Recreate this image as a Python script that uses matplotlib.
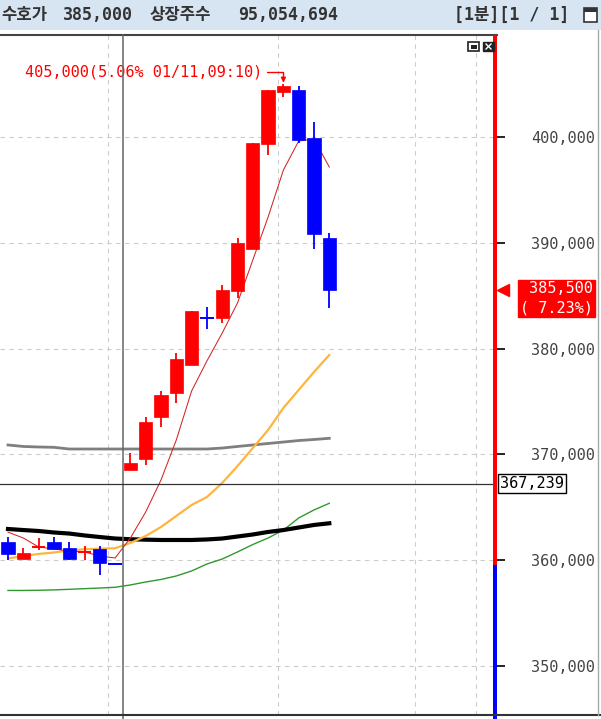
import matplotlib.pyplot as plt
from matplotlib.patches import Rectangle
from matplotlib.lines import Line2D
from matplotlib.transforms import blended_transform_factory

# ---- data (1-minute candles) ----
opens = [361700, 360100, 361250, 361700, 361150, 360800, 361100, 359650,
         368550, 369550, 373500, 375850, 378450, 382900, 382850, 385400,
         389400, 399350, 404300, 404400, 399900, 390500]
highs = [362200, 361200, 362100, 362200, 361750, 361300, 361300, 359650,
         370100, 373550, 376000, 379550, 383550, 383950, 386000, 390500,
         399400, 404400, 405000, 404800, 401450, 390900]
lows = [360000, 360100, 361000, 361100, 360000, 360000, 358600, 359650,
        368550, 369000, 372550, 374900, 378450, 381850, 382450, 384750,
        389400, 398300, 403750, 399400, 389400, 383800]
closes = [360600, 360700, 361250, 361100, 360100, 360800, 359700, 359650,
          369150, 373050, 375600, 379000, 383550, 382900, 385550, 389950,
          399400, 404400, 404800, 399700, 390800, 385500]

ma_red = [362650, 362100, 361250, 361060, 360870, 360775, 360400, 360210,
          362100, 364560, 367580, 371360, 375990, 378830, 381470, 384310,
          388370, 392440, 396880, 399620, 399810, 397160]
ma_orange = [360160, 360400, 360590, 360730, 360920, 361030, 361090, 361130,
             361630, 362290, 363140, 364180, 365220, 365970, 367300, 368900,
             370600, 372310, 374390, 376090, 377790, 379400]
ma_black = [362950, 362850, 362760, 362620, 362520, 362340, 362190, 362050,
            361980, 361940, 361910, 361910, 361910, 361960, 362050, 362240,
            362430, 362670, 362850, 363090, 363330, 363490]
ma_gray = [370890, 370750, 370700, 370670, 370510, 370510, 370510, 370510,
           370510, 370510, 370510, 370510, 370510, 370510, 370600, 370750,
           370890, 371030, 371170, 371310, 371410, 371520]
ma_green = [357140, 357140, 357160, 357190, 357250, 357310, 357370, 357440,
            357660, 357940, 358180, 358510, 358980, 359640, 360110, 360780,
            361480, 362100, 362850, 363990, 364750, 365380]

price_ticks = [350000, 360000, 370000, 380000, 390000, 400000]
time_grid = [6.54, 17.65, 26.6, 30.59]
cursor_idx = 7.52
cursor_price = 367239
base_price = 359500
hi_label = "405,000(5.06% 01/11,09:10)"
last_label = "385,500\n( 7.23%)"
header_items = [("수호가", 1), ("385,000", 63), ("상장주수", 150),
                ("95,054,694", 238), ("[1분][1 / 1]", 454)]

W, H = 601, 719
MONO = ['DejaVu Sans Mono']
KR = ['DejaVu Sans Mono', 'Noto Sans CJK KR']
RED, BLUE = '#ff0000', '#0000ff'


def fx(x):
    return x / W


def fy(y):
    return 1 - y / H


fig = plt.figure(figsize=(W / 100, H / 100), dpi=100)
fig.patch.set_facecolor('white')

# header strip
fig.add_artist(Rectangle((0, fy(30)), 1, 30 / H, transform=fig.transFigure,
                         fc='#d7e4f1', ec='none', zorder=0))
for txt, x in header_items:
    fig.text(fx(x), fy(15), txt, family=KR, fontsize=12, weight='bold',
             color='#333333', ha='left', va='center')
fig.add_artist(Rectangle((fx(584), fy(22)), 13 / W, 14 / H, transform=fig.transFigure,
                         fc='white', ec='#333333', lw=1.2))
fig.add_artist(Rectangle((fx(584), fy(12)), 13 / W, 4 / H, transform=fig.transFigure,
                         fc='#333333', ec='none'))

# plot area: pixels x 0..497, y 35..715
ax = fig.add_axes([0, fy(715), fx(497), (715 - 35) / H])
x0 = -8 / 15.3
x1 = (497 - 8) / 15.3
x_bar = (493 - 8) / 15.3
y_top = 400000 + (137 - 35) / 105.8 * 10000
y_bot = 400000 - (715 - 137) / 105.8 * 10000
ax.set_xlim(x0, x1)
ax.set_ylim(y_bot, y_top)
for s in ['left', 'right', 'bottom']:
    ax.spines[s].set_visible(False)
ax.spines['top'].set_color('#444444')
ax.spines['top'].set_linewidth(1.5)

# grid
ax.hlines(price_ticks, x0, x_bar, colors='#cccccc', linestyles=(0, (4, 4)), lw=0.8, zorder=1)
ax.vlines(time_grid, y_bot, y_top, colors='#cccccc', linestyles=(0, (4, 4)), lw=0.8, zorder=1)

# moving averages
idx = list(range(len(closes)))
ax.plot(idx, ma_green, color='#2e9a2e', lw=1.0, zorder=2)
ax.plot(idx, ma_gray, color='#7f7f7f', lw=2.0, zorder=2)
ax.plot(idx, ma_black, color='black', lw=3.0, zorder=2)
ax.plot(idx, ma_orange, color='#ffb53d', lw=1.6, zorder=2)
ax.plot(idx, ma_red, color='#d42424', lw=0.75, zorder=2)

# candles
bw = 0.87
for i in idx:
    o, h, l, c = opens[i], highs[i], lows[i], closes[i]
    if c > o:
        col = RED
    elif c < o:
        col = BLUE
    else:
        col = RED if i == 0 or c >= closes[i - 1] else BLUE
    if h > l:
        ax.vlines(i, l, h, color=col, lw=1.3, zorder=3)
    if c != o:
        ax.add_patch(Rectangle((i - bw / 2, min(o, c)), bw, abs(c - o),
                               fc=col, ec=col, lw=0.5, zorder=3))
    else:
        ax.hlines(o, i - bw / 2, i + bw / 2, color=col, lw=1.4, zorder=3)

# high annotation
i_hi = highs.index(max(highs))
ax.annotate(hi_label, xy=(i_hi, highs[i_hi]), xytext=(-21, 12),
            textcoords='offset pixels', ha='right', va='center',
            color='red', family=MONO, fontsize=11,
            arrowprops=dict(arrowstyle='-|>', color='red', lw=1,
                            mutation_scale=7, shrinkA=1, shrinkB=1,
                            connectionstyle='angle,angleA=0,angleB=90,rad=0'))

# right price bar (red above base price, blue below)
trans = blended_transform_factory(ax.transAxes, ax.transData)
ax.add_patch(Rectangle((493 / 497, base_price), 4 / 497, y_top - base_price,
                       fc='red', ec='none', transform=trans, clip_on=False, zorder=5))
ax.add_patch(Rectangle((493 / 497, y_bot - 500), 4 / 497, base_price - y_bot + 500,
                       fc='blue', ec='none', transform=trans, clip_on=False, zorder=5))

# crosshair
ax.axvline(cursor_idx, ymin=-4 / 680, ymax=1, color='#666666', lw=1.1, zorder=4, clip_on=False)
ax.axhline(cursor_price, color='#333333', lw=0.9, zorder=4)
ax.text(500 / 497, cursor_price, f"{cursor_price:,}", transform=trans,
        ha='left', va='center', family=MONO, fontsize=11, color='black',
        bbox=dict(boxstyle='square,pad=0.15', fc='white', ec='black', lw=1),
        clip_on=False, zorder=6)

# last price marker
ax.plot([502.5 / 497], [closes[-1]], marker='<', ms=9, color='red',
        transform=trans, clip_on=False, zorder=6)
ax.annotate(last_label, xy=(593 / 497, closes[-1]), xycoords=trans,
            xytext=(0, -8), textcoords='offset pixels', ha='right', va='center',
            multialignment='right', color='white', family=MONO, fontsize=11,
            linespacing=1.35, annotation_clip=False, zorder=6,
            bbox=dict(boxstyle='square,pad=0.1', fc='red', ec='red'))

# right axis
ax.set_xticks([])
ax.yaxis.tick_right()
ax.set_yticks(price_ticks, labels=[f"{p:,}" for p in price_ticks])
ax.tick_params(axis='y', direction='out', length=5.8, width=1.2, color='black',
               pad=64.8, labelsize=11, labelcolor='#444444')
for lab in ax.get_yticklabels():
    lab.set_ha('right')
    lab.set_family(MONO)

# small window icons in plot corner
ax_icon = fig.transFigure
fig.add_artist(Rectangle((fx(468), fy(51)), 11 / W, 9 / H, transform=ax_icon,
                         fc='white', ec='#222222', lw=1.2, zorder=7))
fig.add_artist(Rectangle((fx(470.5), fy(48.5)), 6 / W, 4 / H, transform=ax_icon,
                         fc='#222222', ec='none', zorder=7))
fig.add_artist(Rectangle((fx(483), fy(51)), 11 / W, 9 / H, transform=ax_icon,
                         fc='#222222', ec='#222222', lw=1, zorder=7))
fig.add_artist(Line2D([fx(486), fx(491)], [fy(44), fy(49)], transform=ax_icon,
                      color='white', lw=1, zorder=8))
fig.add_artist(Line2D([fx(486), fx(491)], [fy(49), fy(44)], transform=ax_icon,
                      color='white', lw=1, zorder=8))

# frame lines
fig.add_artist(Line2D([0, 1], [fy(715), fy(715)], transform=fig.transFigure,
                      color='#333333', lw=1.5))
fig.add_artist(Line2D([fx(597.5), fx(597.5)], [fy(30), fy(715)], transform=fig.transFigure,
                      color='#a8a8a8', lw=1))

fig.savefig('out.png', dpi=100)
